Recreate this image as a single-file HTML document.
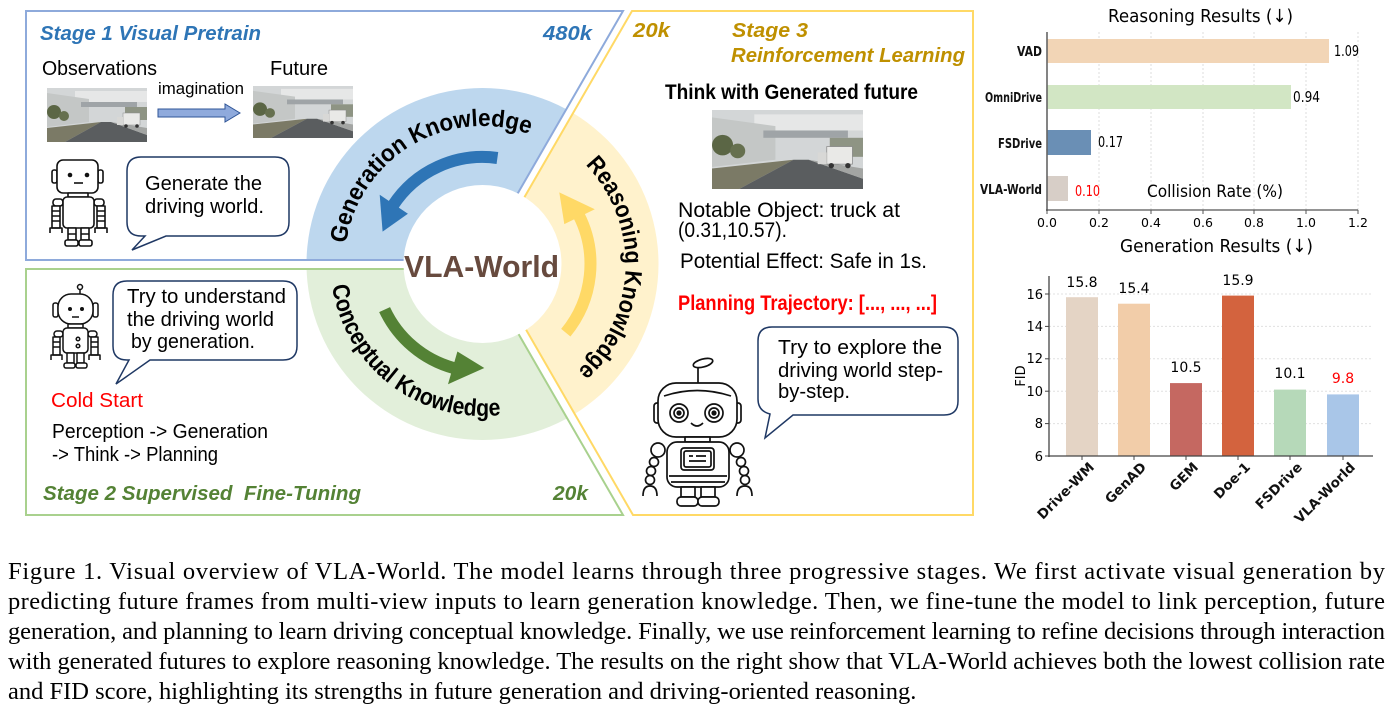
<!DOCTYPE html>
<html><head><meta charset="utf-8">
<style>
html,body{margin:0;padding:0;background:#fff;}
body{width:1394px;height:713px;overflow:hidden;}
svg{display:block;}
.c{font-family:"Liberation Sans","DejaVu Sans",sans-serif;}
.d{font-family:"DejaVu Sans","Liberation Sans",sans-serif;}
.s{font-family:"Liberation Serif","DejaVu Serif",serif;}
</style></head>
<body>
<svg width="1394" height="713" viewBox="0 0 1394 713" xmlns="http://www.w3.org/2000/svg">
<defs>
  <clipPath id="cp1"><polygon points="26,11 623,11 479.3,260 26,260"/></clipPath>
  <clipPath id="cp2"><polygon points="26,269 481,269 623,515 26,515"/></clipPath>
  <clipPath id="cp3"><polygon points="632,11 973,11 973,515 633,515 487,262"/></clipPath>
  <symbol id="road" viewBox="0 0 100 54" preserveAspectRatio="none">
    <rect width="100" height="54" fill="#d3d6d7"/>
    <rect x="28" y="3" width="72" height="11" fill="#e6e7e7"/>
    <polygon points="0,5 42,11 42,34 0,39" fill="#c4c7c6"/>
    <rect x="34" y="14" width="56" height="5" fill="#9fa4a7"/>
    <rect x="78" y="19" width="22" height="13" fill="#8e9484"/>
    <circle cx="7" cy="24" r="7" fill="#5b6645"/>
    <circle cx="17" cy="28" r="5" fill="#66704f"/>
    <polygon points="0,40 54,34 18,54 0,54" fill="#7b7a66"/>
    <polygon points="18,54 100,54 100,47 64,34 54,34" fill="#5a5d5f"/>
    <polygon points="64,34 100,40 100,47" fill="#a3a5a3"/>
    <rect x="76" y="25" width="17" height="12" fill="#e9e9e7" stroke="#8a8a8a" stroke-width="0.5"/>
    <rect x="70" y="29" width="6" height="8" fill="#d8d8d6"/>
    <circle cx="79" cy="38" r="1.8" fill="#333"/>
    <circle cx="90" cy="38" r="1.8" fill="#333"/>
  </symbol>
</defs>

<!-- ring sectors -->
<g clip-path="url(#cp1)"><circle cx="482.5" cy="264" r="176" fill="#bdd7ee"/></g>
<g clip-path="url(#cp2)"><circle cx="482.5" cy="264" r="176" fill="#e2efda"/></g>
<g clip-path="url(#cp3)"><circle cx="482.5" cy="264" r="176" fill="#fff2cc"/></g>

<!-- panel borders -->
<polygon points="26,11 623,11 479.3,260 26,260" fill="none" stroke="#8eaadb" stroke-width="2"/>
<polygon points="26,269 481,269 623,515 26,515" fill="none" stroke="#a9d18e" stroke-width="2"/>
<polygon points="632,11 973,11 973,515 633,515 487,262" fill="none" stroke="#ffd966" stroke-width="2"/>

<circle cx="482.5" cy="264" r="79" fill="#fff"/>

<!-- ring arrows -->
<path d="M497.4 158 A107 107 0 0 0 392.8 205.7" fill="none" stroke="#2e75b6" stroke-width="12"/>
<polygon points="379.7,194.7 407.9,213.7 382.6,231.6" fill="#2e75b6"/>
<path d="M384.6 309.6 A108 108 0 0 0 453.5 368" fill="none" stroke="#548235" stroke-width="12"/>
<polygon points="448,384.2 457.4,351.5 484.3,368" fill="#548235"/>
<path d="M565.8 332.7 A108 108 0 0 0 578.7 215" fill="none" stroke="#ffd966" stroke-width="12"/>
<polygon points="594.8,209.2 564.3,224.1 559.3,192.4" fill="#ffd966"/>

<!-- ring text -->
<path id="tpB" d="M346 243.6 A138 138 0 0 1 538.6 137.9" fill="none"/>
<path id="tpY" d="M585.4 164.7 A143 143 0 0 1 570.5 376.7" fill="none"/>
<path id="tpG" d="M332.1 285.9 A152 152 0 0 0 521.8 410.8" fill="none"/>
<text class="c" font-size="24" font-weight="bold" fill="#000"><textPath href="#tpB" textLength="244" lengthAdjust="spacingAndGlyphs">Generation Knowledge</textPath></text>
<text class="c" font-size="24" font-weight="bold" fill="#000"><textPath href="#tpY" textLength="230" lengthAdjust="spacingAndGlyphs">Reasoning Knowledge</textPath></text>
<text class="c" font-size="24" font-weight="bold" fill="#000"><textPath href="#tpG" textLength="235" lengthAdjust="spacingAndGlyphs">Conceptual Knowledge</textPath></text>

<text class="c" x="404" y="277" font-size="31" font-weight="bold" fill="#674a3e" textLength="155" lengthAdjust="spacingAndGlyphs">VLA-World</text>

<!-- Stage 1 -->
<text class="c" x="40" y="40" font-size="20" font-weight="bold" font-style="italic" fill="#2e75b6" textLength="221" lengthAdjust="spacingAndGlyphs">Stage 1 Visual Pretrain</text>
<text class="c" x="543" y="40" font-size="20" font-weight="bold" font-style="italic" fill="#2e75b6" textLength="49" lengthAdjust="spacingAndGlyphs">480k</text>
<text class="c" x="42" y="75" font-size="20" fill="#000" textLength="115" lengthAdjust="spacingAndGlyphs">Observations</text>
<text class="c" x="270" y="75" font-size="20" fill="#000" textLength="58" lengthAdjust="spacingAndGlyphs">Future</text>
<text class="c" x="158" y="94" font-size="17" fill="#000" textLength="86" lengthAdjust="spacingAndGlyphs">imagination</text>
<use href="#road" x="47" y="88" width="100" height="54"/>
<use href="#road" x="253" y="86" width="100" height="52"/>
<polygon points="158,109 225,109 225,104 240,113 225,122 225,117 158,117" fill="#8faadc" stroke="#2f5597" stroke-width="1"/>

<!-- robot 1 -->
<g fill="#fff" stroke="#111" stroke-width="1.6" stroke-linejoin="round">
  <rect x="52" y="170" width="5" height="13" rx="2"/>
  <rect x="98" y="170" width="5" height="13" rx="2"/>
  <rect x="57" y="160" width="41" height="33" rx="6"/>
  <rect x="68" y="193" width="20" height="4"/>
  <rect x="53" y="199" width="10" height="7" rx="3"/>
  <rect x="94" y="199" width="10" height="7" rx="3"/>
  <rect x="52" y="206" width="8" height="22"/>
  <rect x="97" y="206" width="8" height="22"/>
  <path d="M52 211h8M52 216h8M52 221h8M97 211h8M97 216h8M97 221h8" fill="none"/>
  <path d="M50 233 v-5 h12 v5 M95 233 v-5 h12 v5" fill="none"/>
  <rect x="63" y="197" width="31" height="31" rx="4"/>
  <rect x="68" y="228" width="8" height="12"/>
  <rect x="81" y="228" width="8" height="12"/>
  <path d="M68 234h8M81 234h8" fill="none"/>
  <rect x="65" y="240" width="13" height="6" rx="2"/>
  <rect x="79" y="240" width="13" height="6" rx="2"/>
  <line x1="74" y1="183" x2="83" y2="183"/>
</g>
<circle cx="70" cy="175" r="2.3" fill="#111"/>
<circle cx="87" cy="175" r="2.3" fill="#111"/>

<path d="M141 157 H275 Q289 157 289 171 V222 Q289 236 275 236 H166 L132 250 L145 236 H141 Q127 236 127 222 V171 Q127 157 141 157 Z" fill="#fff" stroke="#1f3864" stroke-width="1.5"/>
<text class="c" x="145" y="190" font-size="20" fill="#000" textLength="117" lengthAdjust="spacingAndGlyphs">Generate the</text>
<text class="c" x="145" y="213" font-size="20" fill="#000" textLength="119" lengthAdjust="spacingAndGlyphs">driving world.</text>

<!-- Stage 2 -->
<g fill="#fff" stroke="#111" stroke-width="1.5" stroke-linejoin="round">
  <line x1="80" y1="290" x2="80" y2="294"/>
  <circle cx="80" cy="287" r="2.5"/>
  <rect x="53" y="303" width="5" height="14" rx="2"/>
  <rect x="93" y="303" width="5" height="14" rx="2"/>
  <rect x="58" y="294" width="35" height="30" rx="13"/>
  <rect x="68" y="324" width="15" height="4"/>
  <rect x="54" y="331" width="9" height="6" rx="3"/>
  <rect x="88" y="331" width="9" height="6" rx="3"/>
  <rect x="53" y="337" width="7" height="18"/>
  <rect x="91" y="337" width="7" height="18"/>
  <path d="M53 342h7M53 347h7M91 342h7M91 347h7" fill="none"/>
  <path d="M51 360 v-5 h11 v5 M89 360 v-5 h11 v5" fill="none"/>
  <rect x="63" y="328" width="25" height="25" rx="4"/>
  <circle cx="78" cy="339" r="1.8"/>
  <circle cx="78" cy="346" r="1.8"/>
  <rect x="67" y="353" width="7" height="10"/>
  <rect x="77" y="353" width="7" height="10"/>
  <rect x="64" y="363" width="11" height="5" rx="2"/>
  <rect x="76" y="363" width="11" height="5" rx="2"/>
  <line x1="72" y1="317" x2="79" y2="317"/>
</g>
<circle cx="70" cy="309" r="2" fill="#111"/>
<circle cx="82" cy="309" r="2" fill="#111"/>

<path d="M127 281 H283 Q297 281 297 295 V346 Q297 360 283 360 H150 L116 384 L129 360 H127 Q113 360 113 346 V295 Q113 281 127 281 Z" fill="#fff" stroke="#1f3864" stroke-width="1.5"/>
<text class="c" x="127" y="303" font-size="20" fill="#000" textLength="159" lengthAdjust="spacingAndGlyphs">Try to understand</text>
<text class="c" x="127" y="326" font-size="20" fill="#000" textLength="147" lengthAdjust="spacingAndGlyphs">the driving world</text>
<text class="c" x="131" y="348" font-size="20" fill="#000" textLength="124" lengthAdjust="spacingAndGlyphs">by generation.</text>
<text class="c" x="51" y="407" font-size="20" fill="#ff0000" textLength="92" lengthAdjust="spacingAndGlyphs">Cold Start</text>
<text class="c" x="52" y="438" font-size="20" fill="#000" textLength="216" lengthAdjust="spacingAndGlyphs">Perception -&gt; Generation</text>
<text class="c" x="52" y="461" font-size="20" fill="#000" textLength="166" lengthAdjust="spacingAndGlyphs">-&gt; Think -&gt; Planning</text>
<text class="c" x="43" y="500" font-size="20" font-weight="bold" font-style="italic" fill="#548235" textLength="318" lengthAdjust="spacingAndGlyphs" style="white-space:pre">Stage 2 Supervised  Fine-Tuning</text>
<text class="c" x="553" y="500" font-size="20" font-weight="bold" font-style="italic" fill="#548235" textLength="35" lengthAdjust="spacingAndGlyphs">20k</text>

<!-- Stage 3 -->
<text class="c" x="633" y="37" font-size="20" font-weight="bold" font-style="italic" fill="#bf9000" textLength="37" lengthAdjust="spacingAndGlyphs">20k</text>
<text class="c" x="732" y="37" font-size="20" font-weight="bold" font-style="italic" fill="#bf9000" textLength="76" lengthAdjust="spacingAndGlyphs">Stage 3</text>
<text class="c" x="731" y="62" font-size="20" font-weight="bold" font-style="italic" fill="#bf9000" textLength="234" lengthAdjust="spacingAndGlyphs">Reinforcement Learning</text>
<text class="c" x="665" y="99" font-size="21" font-weight="bold" fill="#000" textLength="253" lengthAdjust="spacingAndGlyphs">Think with Generated future</text>
<use href="#road" x="712" y="110" width="151" height="79"/>
<text class="c" x="678" y="217" font-size="21" fill="#000" textLength="222" lengthAdjust="spacingAndGlyphs">Notable Object: truck at</text>
<text class="c" x="678" y="237" font-size="21" fill="#000" textLength="109" lengthAdjust="spacingAndGlyphs">(0.31,10.57).</text>
<text class="c" x="680" y="268" font-size="21" fill="#000" textLength="247" lengthAdjust="spacingAndGlyphs">Potential Effect: Safe in 1s.</text>
<text class="c" x="678" y="310" font-size="21" font-weight="bold" fill="#ff0000" textLength="259" lengthAdjust="spacingAndGlyphs">Planning Trajectory: [..., ..., ...]</text>

<path d="M772 327 H944 Q958 327 958 341 V401 Q958 415 944 415 H793 L765 438 L770 414 Q758 411 758 399 V341 Q758 327 772 327 Z" fill="#fff" stroke="#1f3864" stroke-width="1.5"/>
<text class="c" x="778" y="354" font-size="20" fill="#000" textLength="164" lengthAdjust="spacingAndGlyphs">Try to explore the</text>
<text class="c" x="778" y="377" font-size="20" fill="#000" textLength="165" lengthAdjust="spacingAndGlyphs">driving world step-</text>
<text class="c" x="778" y="398" font-size="20" fill="#000" textLength="72" lengthAdjust="spacingAndGlyphs">by-step.</text>

<!-- robot 3 -->
<g fill="#fff" stroke="#111" stroke-width="1.7" stroke-linejoin="round">
  <line x1="698" y1="367" x2="698" y2="384"/>
  <ellipse cx="703" cy="363" rx="10" ry="4" transform="rotate(-15 703 363)"/>
  <rect x="654" y="403" width="7" height="20" rx="3"/>
  <rect x="734" y="403" width="7" height="20" rx="3"/>
  <rect x="658" y="383" width="79" height="54" rx="18"/>
  <path d="M664 396 Q697 385 731 396" fill="none"/>
  <circle cx="679" cy="413" r="9"/>
  <circle cx="714" cy="413" r="9"/>
  <circle cx="679" cy="413" r="5"/>
  <circle cx="714" cy="413" r="5"/>
  <path d="M691 423 Q697 429 703 423" fill="none"/>
  <rect x="685" y="437" width="25" height="5"/>
  <circle cx="658" cy="450" r="7"/>
  <circle cx="737" cy="450" r="7"/>
  <circle cx="654" cy="462" r="4.5"/>
  <circle cx="651" cy="471" r="4.5"/>
  <circle cx="650" cy="480" r="4.5"/>
  <circle cx="741" cy="462" r="4.5"/>
  <circle cx="744" cy="471" r="4.5"/>
  <circle cx="745" cy="480" r="4.5"/>
  <path d="M643 496 Q643 486 650 486 Q657 486 657 496 M737 496 Q737 486 745 486 Q752 486 752 496" fill="none"/>
  <rect x="667" y="442" width="62" height="45" rx="10"/>
  <rect x="681" y="448" width="33" height="22" rx="3"/>
  <rect x="684" y="451" width="27" height="16" rx="2"/>
  <path d="M689 456h4M696 456h10M689 461h17M669 476h58M671 482h54" fill="none"/>
  <rect x="681" y="487" width="14" height="10"/>
  <rect x="701" y="487" width="14" height="10"/>
  <rect x="677" y="497" width="21" height="9" rx="4"/>
  <rect x="698" y="497" width="21" height="9" rx="4"/>
</g>
<circle cx="679" cy="413" r="2.6" fill="#111"/>
<circle cx="714" cy="413" r="2.6" fill="#111"/>

<!-- Top chart -->
<text class="d" x="1108" y="22" font-size="18" fill="#000" textLength="185" lengthAdjust="spacingAndGlyphs">Reasoning Results (↓)</text>
<g stroke="#dcdcdc" stroke-width="1" stroke-dasharray="2 2">
  <line x1="1099" y1="32" x2="1099" y2="210"/>
  <line x1="1151" y1="32" x2="1151" y2="210"/>
  <line x1="1203" y1="32" x2="1203" y2="210"/>
  <line x1="1254" y1="32" x2="1254" y2="210"/>
  <line x1="1306" y1="32" x2="1306" y2="210"/>
  <line x1="1358" y1="32" x2="1358" y2="210"/>
</g>
<rect x="1047" y="39" width="282" height="24" fill="#f2d5b6"/>
<rect x="1047" y="85" width="244" height="24" fill="#d2e6c4"/>
<rect x="1047" y="130" width="44" height="25" fill="#6a8fb5"/>
<rect x="1047" y="176" width="21" height="25" fill="#d7cec7"/>
<line x1="1047" y1="32" x2="1047" y2="211" stroke="#666" stroke-width="1.6"/>
<line x1="1046" y1="210" x2="1358" y2="210" stroke="#555" stroke-width="1.2"/>
<g stroke="#555" stroke-width="1">
  <line x1="1047" y1="210" x2="1047" y2="214"/><line x1="1099" y1="210" x2="1099" y2="214"/>
  <line x1="1151" y1="210" x2="1151" y2="214"/><line x1="1203" y1="210" x2="1203" y2="214"/>
  <line x1="1254" y1="210" x2="1254" y2="214"/><line x1="1306" y1="210" x2="1306" y2="214"/>
  <line x1="1358" y1="210" x2="1358" y2="214"/>
</g>
<g class="d" font-size="12.5" fill="#000" text-anchor="middle">
  <text x="1047" y="227">0.0</text><text x="1099" y="227">0.2</text><text x="1151" y="227">0.4</text>
  <text x="1203" y="227">0.6</text><text x="1254" y="227">0.8</text><text x="1306" y="227">1.0</text>
  <text x="1358" y="227">1.2</text>
</g>
<g class="d" font-size="13" font-weight="bold" fill="#111" text-anchor="end">
  <text x="1042" y="56" textLength="25" lengthAdjust="spacingAndGlyphs">VAD</text>
  <text x="1042" y="102" textLength="57" lengthAdjust="spacingAndGlyphs">OmniDrive</text>
  <text x="1042" y="148" textLength="44" lengthAdjust="spacingAndGlyphs">FSDrive</text>
  <text x="1042" y="194" textLength="62" lengthAdjust="spacingAndGlyphs">VLA-World</text>
</g>
<g class="d" font-size="15" fill="#000">
  <text x="1334" y="56" textLength="25" lengthAdjust="spacingAndGlyphs">1.09</text>
  <text x="1293" y="102" textLength="27" lengthAdjust="spacingAndGlyphs">0.94</text>
  <text x="1098" y="147" textLength="25" lengthAdjust="spacingAndGlyphs">0.17</text>
  <text x="1075" y="196" fill="#ff0000" textLength="25" lengthAdjust="spacingAndGlyphs">0.10</text>
</g>
<text class="d" x="1147" y="197" font-size="17" fill="#000" textLength="136" lengthAdjust="spacingAndGlyphs">Collision Rate (%)</text>

<!-- Bottom chart -->
<text class="d" x="1120" y="252" font-size="18" fill="#000" textLength="193" lengthAdjust="spacingAndGlyphs">Generation Results (↓)</text>
<g stroke="#e0e0e0" stroke-width="1" stroke-dasharray="2 2">
  <line x1="1049" y1="294" x2="1373" y2="294"/>
  <line x1="1049" y1="326.4" x2="1373" y2="326.4"/>
  <line x1="1049" y1="358.8" x2="1373" y2="358.8"/>
  <line x1="1049" y1="391.2" x2="1373" y2="391.2"/>
  <line x1="1049" y1="423.6" x2="1373" y2="423.6"/>
</g>
<rect x="1066" y="297.2" width="32" height="158.8" fill="#e4d4c5"/>
<rect x="1118" y="303.7" width="32" height="152.3" fill="#f2cda9"/>
<rect x="1170" y="383.1" width="32" height="72.9" fill="#c56861"/>
<rect x="1222" y="295.6" width="32" height="160.4" fill="#d3633e"/>
<rect x="1274" y="389.6" width="32" height="66.4" fill="#b6d9b9"/>
<rect x="1327" y="394.4" width="32" height="61.6" fill="#a9c6e8"/>
<line x1="1049" y1="276" x2="1049" y2="457" stroke="#444" stroke-width="1.3"/>
<line x1="1048" y1="456" x2="1373" y2="456" stroke="#444" stroke-width="1.3"/>
<g stroke="#444" stroke-width="1">
  <line x1="1045" y1="294" x2="1049" y2="294"/><line x1="1045" y1="326.4" x2="1049" y2="326.4"/>
  <line x1="1045" y1="358.8" x2="1049" y2="358.8"/><line x1="1045" y1="391.2" x2="1049" y2="391.2"/>
  <line x1="1045" y1="423.6" x2="1049" y2="423.6"/><line x1="1045" y1="456" x2="1049" y2="456"/>
  <line x1="1082" y1="456" x2="1082" y2="460"/><line x1="1134" y1="456" x2="1134" y2="460"/>
  <line x1="1186" y1="456" x2="1186" y2="460"/><line x1="1238" y1="456" x2="1238" y2="460"/>
  <line x1="1290" y1="456" x2="1290" y2="460"/><line x1="1343" y1="456" x2="1343" y2="460"/>
</g>
<g class="d" font-size="13" fill="#000" text-anchor="end">
  <text x="1043" y="299">16</text><text x="1043" y="331">14</text><text x="1043" y="363">12</text>
  <text x="1043" y="396">10</text><text x="1043" y="428">8</text><text x="1043" y="461">6</text>
</g>
<text class="d" x="1025" y="376" font-size="13" fill="#000" text-anchor="middle" transform="rotate(-90 1025 376)">FID</text>
<g class="d" font-size="14" fill="#000" text-anchor="middle">
  <text x="1082" y="287">15.8</text>
  <text x="1134" y="293">15.4</text>
  <text x="1186" y="372">10.5</text>
  <text x="1238" y="285">15.9</text>
  <text x="1290" y="378">10.1</text>
  <text x="1343" y="383" fill="#ff0000">9.8</text>
</g>
<g class="d" font-size="13.5" font-weight="bold" fill="#111" text-anchor="end">
  <text x="1095" y="468" transform="rotate(-45 1095 468)">Drive-WM</text>
  <text x="1147" y="468" transform="rotate(-45 1147 468)">GenAD</text>
  <text x="1199" y="468" transform="rotate(-45 1199 468)">GEM</text>
  <text x="1251" y="468" transform="rotate(-45 1251 468)">Doe-1</text>
  <text x="1303" y="468" transform="rotate(-45 1303 468)">FSDrive</text>
  <text x="1356" y="468" transform="rotate(-45 1356 468)">VLA-World</text>
</g>

<!-- Caption -->
<g class="s" font-size="24.5" fill="#000" style="white-space:pre">
  <text x="8" y="579" textLength="1377" lengthAdjust="spacing">Figure 1.   Visual overview of VLA-World.  The model learns through three progressive stages.  We first activate visual generation by</text>
  <text x="8" y="609" textLength="1377" lengthAdjust="spacing">predicting future frames from multi-view inputs to learn generation knowledge. Then, we fine-tune the model to link perception, future</text>
  <text x="8" y="639" textLength="1377" lengthAdjust="spacing">generation, and planning to learn driving conceptual knowledge. Finally, we use reinforcement learning to refine decisions through interaction</text>
  <text x="8" y="669" textLength="1377" lengthAdjust="spacing">with generated futures to explore reasoning knowledge. The results on the right show that VLA-World achieves both the lowest collision rate</text>
  <text x="8" y="699">and FID score, highlighting its strengths in future generation and driving-oriented reasoning.</text>
</g>
</svg>
</body></html>
